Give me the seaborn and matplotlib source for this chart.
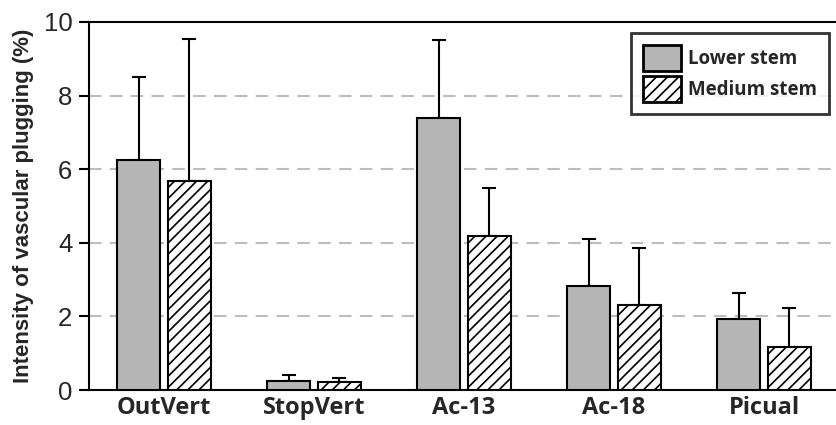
import matplotlib
matplotlib.use("Agg")
import matplotlib.pyplot as plt
import seaborn as sns
import pandas as pd
import numpy as np
from matplotlib.patches import Patch

categories = ["OutVert", "StopVert", "Ac-13", "Ac-18", "Picual"]
series = ["Lower stem", "Medium stem"]
lower_vals = [6.25, 0.25, 7.38, 2.82, 1.93]
lower_err = [2.25, 0.15, 2.12, 1.28, 0.70]
medium_vals = [5.67, 0.22, 4.18, 2.31, 1.17]
medium_err = [3.86, 0.10, 1.32, 1.54, 1.05]
yticks = [0, 2, 4, 6, 8, 10]

df = pd.DataFrame({
    "cat": categories * 2,
    "series": [series[0]] * 5 + [series[1]] * 5,
    "val": lower_vals + medium_vals,
})

sns.set_style("white")
plt.rcParams["hatch.linewidth"] = 1.2

fig = plt.figure(figsize=(8.36, 4.25), dpi=100)
ax = fig.add_axes([89 / 836, 35 / 425, 747 / 836, 368 / 425])

sns.barplot(data=df, x="cat", y="val", hue="series", order=categories,
            hue_order=series, palette=["#b5b5b5", "white"], width=0.667,
            gap=0.14, edgecolor="black", linewidth=1.5, errorbar=None,
            legend=False, ax=ax, zorder=3)

bars = ax.patches
n = len(categories)
for i, p in enumerate(bars[:2 * n]):
    if i >= n:
        p.set_hatch("///")
        p.set_facecolor("white")

for i, p in enumerate(bars[:2 * n]):
    cx = p.get_x() + p.get_width() / 2
    h = p.get_height()
    e = (lower_err + medium_err)[i]
    ax.errorbar([cx], [h], yerr=[[0], [e]], fmt="none", ecolor="black",
                elinewidth=1.5, capsize=5, capthick=1.5, zorder=2)

ax.set_ylim(0, 10)
ax.set_xlim(-0.5, 4.48)
ax.set_yticks(yticks)
ax.set_yticklabels([str(t) for t in yticks], fontsize=18.5, family="Liberation Sans")
for y in yticks[1:-1]:
    ax.axhline(y, color="#bdbdbd", lw=1.5, ls=(0, (6, 4)), zorder=1)

ax.set_xticks(range(n))
ax.set_xticklabels(categories, fontsize=17, fontweight="bold", family="Open Sans")
ax.set_xticks([0.5, 1.5, 2.5, 3.5], minor=True)
ax.tick_params(axis="x", which="major", length=0, pad=4)
ax.tick_params(axis="x", which="minor", length=7, width=1.5, direction="out", color="black")
ax.tick_params(axis="y", which="major", length=7, width=1.5, direction="out", color="black",
               left=True, pad=5)

ax.set_xlabel("")
ax.set_ylabel("Intensity of vascular plugging (%)", fontsize=16, fontweight="bold",
              family="Liberation Sans", labelpad=7)

for side in ["left", "bottom", "top"]:
    ax.spines[side].set_visible(True)
    ax.spines[side].set_color("black")
    ax.spines[side].set_linewidth(1.5)
ax.spines["right"].set_visible(False)

handles = [Patch(facecolor="#b5b5b5", edgecolor="black", linewidth=2),
           Patch(facecolor="white", edgecolor="black", hatch="///", linewidth=2)]
leg = ax.legend(handles, series, loc="upper right", bbox_to_anchor=(0.991, 0.970),
                frameon=True, fancybox=False, handlelength=2.0, handleheight=1.75,
                prop={"family": "Open Sans", "weight": "bold", "size": 13.5},
                borderpad=0.65, labelspacing=0.25, handletextpad=0.4, borderaxespad=0)
leg.get_frame().set_edgecolor("black")
leg.get_frame().set_linewidth(2)

fig.savefig("out.png", dpi=100)
